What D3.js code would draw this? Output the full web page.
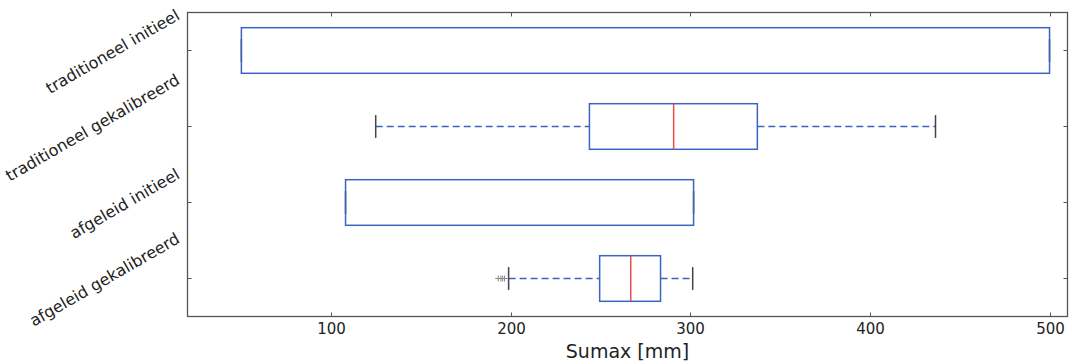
<!DOCTYPE html>
<html>
<head>
<meta charset="utf-8">
<script src="https://cdn.jsdelivr.net/npm/d3@7"></script>
<style>
  body { margin: 0; background: #fff; }
  text { font-family: "DejaVu Sans", sans-serif; fill: #222; }
</style>
</head>
<body>
<div id="graph"></div>
<script>
// box plot data (mm)
const categories = ["traditioneel initieel", "traditioneel gekalibreerd", "afgeleid initieel", "afgeleid gekalibreerd"];
const whiskerLow = [50, 124.8, 108, 198.8];
const q1 = [50, 243.8, 108, 249.5];
const medians = [null, 290.7, null, 266.8];
const q3 = [500, 337.3, 301.8, 283.4];
const whiskerHigh = [500, 436.5, 301.8, 301.3];
const outliers = [[], [], [], [193, 194.5, 195.5, 196.5]];
const xTicks = [100, 200, 300, 400, 500];

const width = 1075, height = 364;
const plotLeft = 187.5, plotRight = 1067.5, plotTop = 12.5, plotBottom = 316.5;
const blue = "#3b63c1", red = "#ee4a4a";

const svg = d3.select("#graph").append("svg")
  .attr("width", width)
  .attr("height", height);

const xScale = d3.scaleLinear().domain([20, 510]).range([plotLeft, plotRight]);
const yScale = d3.scalePoint().domain(categories).range([plotTop, plotBottom]).padding(0.5);
const step = yScale.step();
const boxH = step * 0.6;
const capH = boxH / 2;

// frame
svg.append("rect")
  .attr("x", plotLeft).attr("y", plotTop)
  .attr("width", plotRight - plotLeft).attr("height", plotBottom - plotTop)
  .attr("fill", "none").attr("stroke", "#555").attr("stroke-width", 1.3);

// inward ticks on all four sides
xTicks.forEach(t => {
  const x = Math.round(xScale(t)) + 0.5;
  svg.append("line").attr("x1", x).attr("x2", x).attr("y1", plotBottom).attr("y2", plotBottom - 4).attr("stroke", "#555");
  svg.append("line").attr("x1", x).attr("x2", x).attr("y1", plotTop).attr("y2", plotTop + 4).attr("stroke", "#555");
  svg.append("text")
    .attr("x", x).attr("y", plotBottom + 17)
    .attr("text-anchor", "middle")
    .attr("font-size", "15px")
    .text(t);
});
categories.forEach(c => {
  const y = yScale(c);
  svg.append("line").attr("x1", plotLeft).attr("x2", plotLeft + 4).attr("y1", y).attr("y2", y).attr("stroke", "#555");
  svg.append("line").attr("x1", plotRight).attr("x2", plotRight - 4).attr("y1", y).attr("y2", y).attr("stroke", "#555");
});

// rotated category labels, right aligned and centred on the tick
categories.forEach(c => {
  const y = yScale(c);
  const t = svg.append("text")
    .attr("font-size", "16px")
    .attr("text-anchor", "end")
    .attr("dominant-baseline", "middle")
    .text(c);
  const L = t.node().getComputedTextLength();
  t.attr("transform", `translate(${plotLeft - 9},${y - L * 0.25 + 2}) rotate(-30)`);
});

svg.append("text")
  .attr("x", (plotLeft + plotRight) / 2).attr("y", 358)
  .attr("text-anchor", "middle")
  .attr("font-size", "19px")
  .text("Sumax [mm]");

const g = svg.append("g");

categories.forEach((c, i) => {
  const y = yScale(c);
  // whiskers
  [[whiskerLow[i], q1[i]], [q3[i], whiskerHigh[i]]].forEach(([a, b]) => {
    if (a === b) return;
    g.append("line")
      .attr("x1", xScale(a)).attr("x2", xScale(b))
      .attr("y1", y).attr("y2", y)
      .attr("stroke", blue).attr("stroke-width", 1.5)
      .attr("stroke-dasharray", "7,4");
  });
  // caps
  [whiskerLow[i], whiskerHigh[i]].forEach(v => {
    g.append("line")
      .attr("x1", xScale(v)).attr("x2", xScale(v))
      .attr("y1", y - capH / 2).attr("y2", y + capH / 2)
      .attr("stroke", "#444").attr("stroke-width", 1.5);
  });
  // box
  g.append("rect")
    .attr("x", xScale(q1[i])).attr("y", y - boxH / 2)
    .attr("width", xScale(q3[i]) - xScale(q1[i])).attr("height", boxH)
    .attr("fill", "none").attr("stroke", blue).attr("stroke-width", 1.5);
  // median
  if (medians[i] !== null) {
    g.append("line")
      .attr("x1", xScale(medians[i])).attr("x2", xScale(medians[i]))
      .attr("y1", y - boxH / 2).attr("y2", y + boxH / 2)
      .attr("stroke", red).attr("stroke-width", 1.5);
  }
  // fliers as plus signs
  outliers[i].forEach(v => {
    const x = xScale(v);
    g.append("path")
      .attr("d", `M${x - 3},${y}H${x + 3}M${x},${y - 3}V${y + 3}`)
      .attr("stroke", "#888").attr("stroke-width", 1);
  });
});
</script>
</body>
</html>
